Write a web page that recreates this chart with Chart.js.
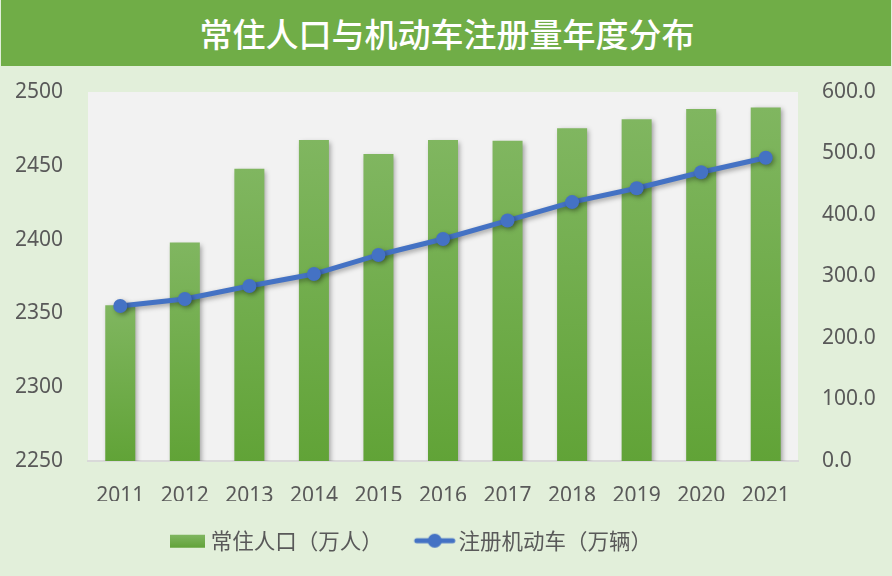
<!DOCTYPE html>
<html lang="zh">
  <head>
    <meta charset="UTF-8" />
    <title>常住人口与机动车注册量年度分布</title>
    <style>
      body {
        margin: 0;
        padding: 0;
        width: 892px;
        height: 576px;
        background: #e2efda;
        overflow: hidden;
      }
      .header {
        height: 66px;
        margin: 0 1px;
        background: #70ad47;
        color: #ffffff;
        font-family: "Noto Sans CJK SC", sans-serif;
        font-weight: 500;
        font-size: 33px;
        line-height: 66px;
        text-align: center;
        padding-left: 2px;
        box-sizing: border-box;
      }
      .chart-box {
        position: relative;
        width: 892px;
        height: 510px;
      }
    </style>
    <script src="https://cdn.jsdelivr.net/npm/chart.js"></script>
  </head>
  <body>
    <div class="header">常住人口与机动车注册量年度分布</div>
    <div class="chart-box">
      <canvas id="popChart"></canvas>
    </div>
    <script>
      const years = ["2011", "2012", "2013", "2014", "2015", "2016", "2017", "2018", "2019", "2020", "2021"];
      const population = [2355.5, 2398, 2448, 2467.5, 2458, 2467.5, 2467, 2475.5, 2481.5, 2488.5, 2489.5];
      const vehicles = [252, 263.5, 284.5, 304, 335, 361, 391, 421, 443.5, 469.5, 493];
      const leftTicks = [2250, 2300, 2350, 2400, 2450, 2500];
      const rightTicks = [0, 100, 200, 300, 400, 500, 600];
      const seriesNames = ["常住人口（万人）", "注册机动车（万辆）"];

      const tickColor = "#595959";
      const digitFont = { family: "'Noto Sans', sans-serif", size: 21 };

      // legend icons
      function boxIcon() {
        const c = document.createElement("canvas");
        c.width = 50;
        c.height = 16;
        const x = c.getContext("2d");
        const g = x.createLinearGradient(0, 2, 0, 15);
        g.addColorStop(0, "#80b660");
        g.addColorStop(1, "#62a339");
        x.fillStyle = g;
        x.fillRect(10, 2, 35, 13);
        return c;
      }
      function lineIcon() {
        const c = document.createElement("canvas");
        c.width = 50;
        c.height = 18;
        const x = c.getContext("2d");
        x.strokeStyle = "#4472c4";
        x.lineWidth = 5;
        x.lineCap = "round";
        x.beginPath();
        x.moveTo(9, 9);
        x.lineTo(45, 9);
        x.stroke();
        x.fillStyle = "#4472c4";
        x.beginPath();
        x.arc(27, 9, 7, 0, Math.PI * 2);
        x.fill();
        return c;
      }
      const icons = [boxIcon(), lineIcon()];

      const plotBg = {
        id: "plotBg",
        beforeDraw(chart) {
          const a = chart.chartArea;
          chart.ctx.save();
          chart.ctx.fillStyle = "#f2f2f2";
          chart.ctx.fillRect(a.left, a.top, a.right - a.left, a.bottom - a.top);
          chart.ctx.restore();
        },
      };

      const shadow = {
        id: "shadow",
        beforeDatasetDraw(chart) {
          const ctx = chart.ctx;
          ctx.save();
          ctx.shadowColor = "rgba(0,0,0,0.35)";
          ctx.shadowBlur = 5;
          ctx.shadowOffsetX = 2;
          ctx.shadowOffsetY = 2;
        },
        afterDatasetDraw(chart) {
          chart.ctx.restore();
        },
      };

      // nudge the legend to where the original sits
      const legendShift = {
        id: "legendShift",
        afterLayout(chart) {
          const lg = chart.legend;
          lg.left -= 35;
          lg.right -= 35;
          lg.top -= 6;
          lg.bottom -= 6;
        },
      };

      function barFill(c) {
        const chart = c.chart;
        if (!chart.chartArea || c.raw === undefined) return "#70ad47";
        const top = chart.scales.y.getPixelForValue(c.raw);
        const g = chart.ctx.createLinearGradient(0, top, 0, chart.chartArea.bottom);
        g.addColorStop(0, "#80b660");
        g.addColorStop(1, "#61a337");
        return g;
      }

      function fixWidth(w) {
        return (s) => {
          s.width = w;
          s.paddingTop = 0;
          s.paddingBottom = 0;
        };
      }

      new Chart(document.getElementById("popChart"), {
        type: "bar",
        data: {
          labels: years,
          datasets: [
            {
              label: seriesNames[0],
              data: population,
              yAxisID: "y",
              backgroundColor: barFill,
              categoryPercentage: 1,
              barPercentage: 0.465,
              order: 1,
            },
            {
              type: "line",
              label: seriesNames[1],
              data: vehicles,
              yAxisID: "y1",
              borderColor: "#4472c4",
              borderWidth: 5,
              backgroundColor: "#4472c4",
              pointRadius: 7,
              pointBorderWidth: 0,
              pointBackgroundColor: "#4472c4",
              tension: 0,
              order: 0,
            },
          ],
        },
        options: {
          responsive: true,
          maintainAspectRatio: false,
          animation: false,
          layout: { padding: { top: 26, bottom: 8.5, left: 0, right: 0 } },
          plugins: {
            title: { display: false },
            tooltip: { enabled: false },
            legend: {
              position: "bottom",
              labels: {
                color: tickColor,
                font: { family: "'Noto Sans CJK SC', sans-serif", size: 21.5 },
                usePointStyle: true,
                pointStyleWidth: 30,
                padding: 35,
                generateLabels: () =>
                  seriesNames.map((name, i) => ({
                    text: name,
                    fontColor: tickColor,
                    pointStyle: icons[i],
                    datasetIndex: i,
                    hidden: false,
                    lineWidth: 0,
                  })),
              },
            },
          },
          scales: {
            x: {
              grid: { display: false },
              border: { color: "#d9d9d9", width: 2 },
              ticks: { color: tickColor, font: digitFont, padding: 14 },
              afterFit: (s) => {
                s.height = 40;
              },
            },
            y: {
              position: "left",
              min: leftTicks[0],
              max: leftTicks[leftTicks.length - 1],
              grid: { display: false, drawTicks: false },
              border: { display: false },
              ticks: {
                stepSize: 50,
                color: tickColor,
                font: digitFont,
                padding: 25,
                callback: (v) => String(v),
              },
              afterFit: fixWidth(88),
            },
            y1: {
              position: "right",
              min: rightTicks[0],
              max: rightTicks[rightTicks.length - 1],
              grid: { display: false, drawTicks: false },
              border: { display: false },
              ticks: {
                stepSize: 100,
                color: tickColor,
                font: digitFont,
                padding: 24,
                callback: (v) => Number(v).toFixed(1),
              },
              afterFit: fixWidth(94),
            },
          },
        },
        plugins: [plotBg, shadow, legendShift],
      });
    </script>
  </body>
</html>
